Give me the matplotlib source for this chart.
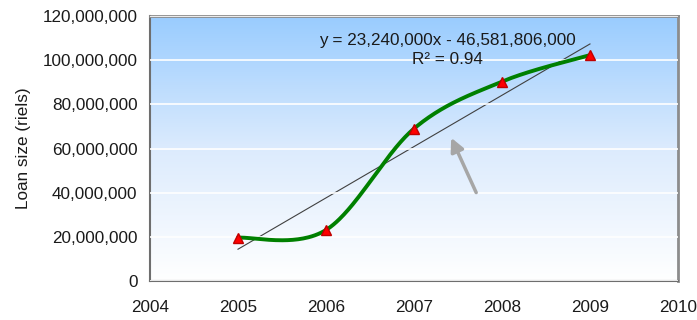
import numpy as np
import matplotlib
matplotlib.use("Agg")
import matplotlib.pyplot as plt
from matplotlib.colors import LinearSegmentedColormap
from matplotlib.ticker import FuncFormatter

plt.rcParams['font.family'] = ['Liberation Sans', 'DejaVu Sans']

# Loan size per year
years = [2005, 2006, 2007, 2008, 2009]
loan_size = [19.6e6, 23.1e6, 69.0e6, 90.3e6, 102.3e6]

# Linear trend coefficients
slope = 23240000
intercept = -46581806000
r_squared = 0.94


def smooth_curve(x, y, n=60):
    # Bezier spline through the points, similar to a spreadsheet "smoothed line"
    px = np.array([x[0]] + list(x) + [x[-1]], dtype=float)
    py = np.array([y[0]] + list(y) + [y[-1]], dtype=float)
    xs, ys = [], []
    t = np.linspace(0, 1, n)
    for i in range(1, len(px) - 2):
        p0 = np.array([px[i], py[i]])
        p3 = np.array([px[i + 1], py[i + 1]])
        p1 = p0 + (np.array([px[i + 1], py[i + 1]]) - np.array([px[i - 1], py[i - 1]])) / 6
        p2 = p3 - (np.array([px[i + 2], py[i + 2]]) - np.array([px[i], py[i]])) / 6
        b = ((1 - t) ** 3)[:, None] * p0 + (3 * (1 - t) ** 2 * t)[:, None] * p1 \
            + (3 * (1 - t) * t ** 2)[:, None] * p2 + (t ** 3)[:, None] * p3
        xs.extend(b[:, 0])
        ys.extend(b[:, 1])
    return np.array(xs), np.array(ys)


fig = plt.figure(figsize=(6.97, 3.2), dpi=100)
ax = fig.add_axes([0.2152, 0.1219, 0.7575, 0.828])
ax.set_xlim(2004, 2010)
ax.set_ylim(0, 120e6)

# background gradient, light blue at top fading to white
cmap = LinearSegmentedColormap.from_list("bg", ["#ffffff", "#dcebfd", "#99ccff"])
grad = np.linspace(0, 1, 256).reshape(-1, 1)
ax.imshow(grad, extent=[2004, 2010, 0, 120e6], origin='lower', aspect='auto',
          cmap=cmap, zorder=0)

ax.set_yticks(np.arange(0, 120e6 + 1, 20e6))
ax.set_xticks(range(2004, 2011))
ax.grid(axis='y', color='white', linewidth=1.2, zorder=1)
ax.set_axisbelow(False)

ax.yaxis.set_major_formatter(FuncFormatter(lambda v, p: f"{int(v):,}"))
ax.tick_params(length=0, labelsize=12.3, colors='#1a1a1a')
ax.tick_params(axis='y', pad=9)
ax.tick_params(axis='x', pad=14)
ax.set_ylabel("Loan size (riels)", fontsize=12.3, color='#1a1a1a')
ax.yaxis.set_label_coords(-0.226, 0.5)

for side in ['top', 'right']:
    ax.spines[side].set_color('#8c8c8c')
    ax.spines[side].set_linewidth(2)
for side in ['left', 'bottom']:
    ax.spines[side].set_color('#6e6e6e')
    ax.spines[side].set_linewidth(1.5)

# smoothed series
sx, sy = smooth_curve(years, loan_size)
ax.plot(sx, sy, color='#008000', linewidth=2.8, zorder=3, solid_capstyle='round')
ax.plot(years, loan_size, linestyle='none', marker='^', markersize=7,
        markerfacecolor='#ff0000', markeredgecolor='#c00000', zorder=4)

# trend line
tx = np.array([years[0], years[-1]])
ax.plot(tx, slope * tx + intercept, color='#404040', linewidth=0.8, zorder=2)

ax.text(2007.375, 108.9e6, f"y = {slope:,}x - {abs(intercept):,}", ha='center',
        va='center', fontsize=12.3, color='#1a1a1a', zorder=5)
ax.text(2007.375, 100.1e6, f"R² = {r_squared}", ha='center', va='center',
        fontsize=12.3, color='#1a1a1a', zorder=5)

ax.annotate("", xy=(2007.41, 66e6), xytext=(2007.72, 38.9e6),
            arrowprops=dict(arrowstyle='-|>,head_length=0.8,head_width=0.4',
                            color='#a6a6a6', linewidth=2.5), zorder=5)

fig.savefig("out.png", dpi=100)
